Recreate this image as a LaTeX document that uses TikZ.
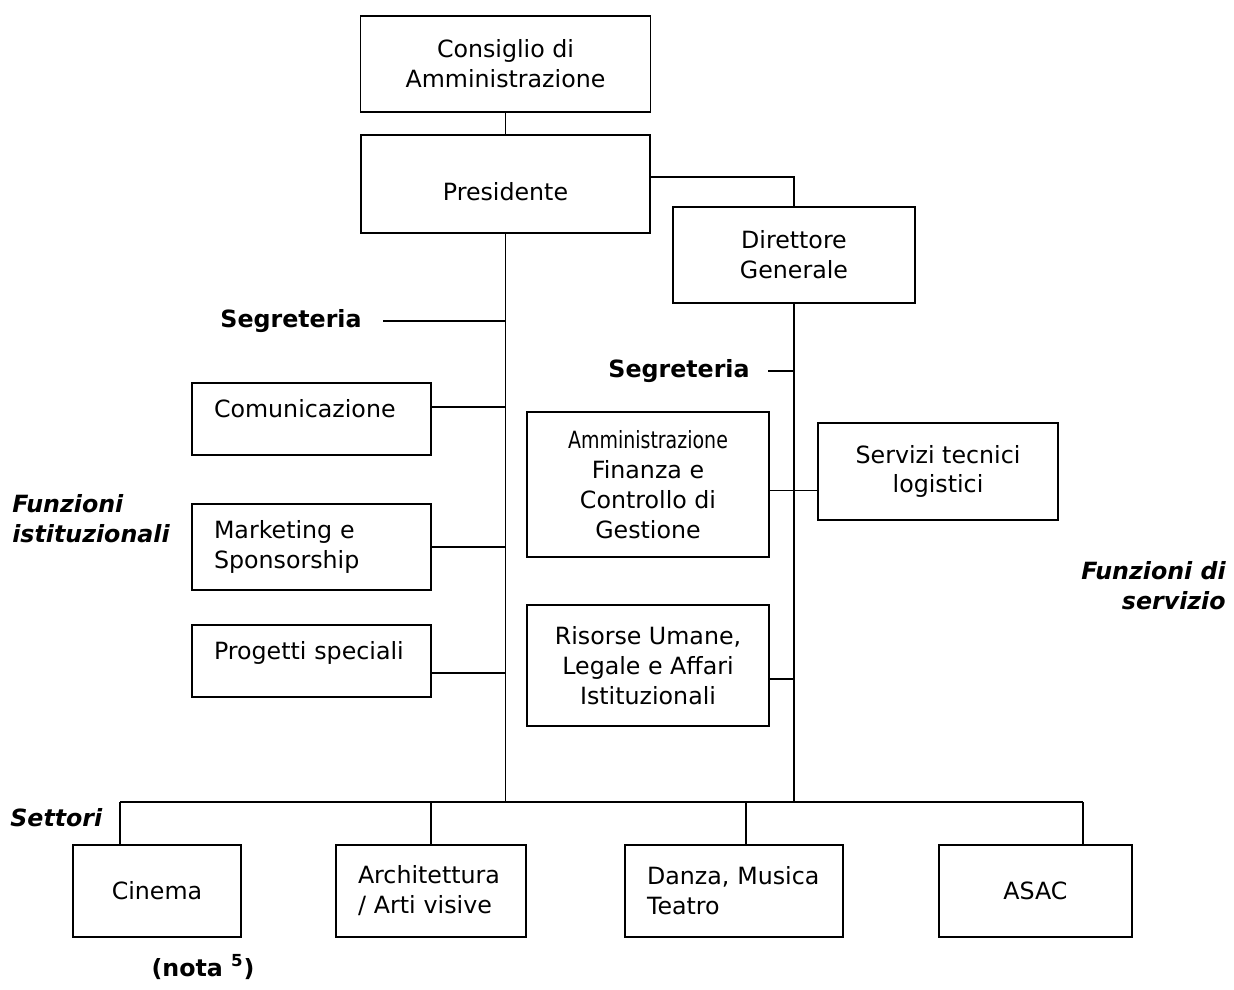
\documentclass[tikz,border=0pt]{standalone}
\usepackage{fontspec}
\setmainfont{DejaVu Sans}[ItalicFont={DejaVu Sans Oblique}, BoldItalicFont={DejaVu Sans Bold Oblique}]
\usepackage{graphicx}
\usepackage{tikz}
\usetikzlibrary{positioning}
\tikzstyle{unit} = [rectangle, draw=black, line width=0.8pt, inner xsep=2pt, inner ysep=0pt, align=center, font=\fontsize{13.5}{17}\selectfont]
\tikzstyle{leftunit} = [unit, align=left, inner xsep=0.44cm]
\tikzstyle{tag} = [inner sep=0pt, font=\fontsize{13.5}{17}\selectfont\bfseries]
\tikzstyle{itag} = [tag, font=\fontsize{13.5}{17}\selectfont\bfseries\itshape]
\tikzstyle{link} = [line width=0.8pt]

\begin{document}
\begin{tikzpicture}[x=0.02cm, y=-0.02cm]
    \useasboundingbox (0,0) rectangle (1234,990);

    % Nodes
    \node (cda) [unit, minimum width=5.8cm, minimum height=1.92cm] at (505.5,64) {Consiglio di\\Amministrazione};
    \node (pres) [unit, minimum width=5.78cm, minimum height=1.96cm, text height=21pt, text depth=2pt] at (505.5,184) {Presidente};
    \node (dg) [unit, minimum width=4.84cm, minimum height=1.92cm] at (794,255) {Direttore\\Generale};

    \node (seg1) [tag, anchor=east] at (362,321) {Segreteria};
    \node (com) [leftunit, text width=3.9cm, minimum height=1.44cm, text height=10pt, text depth=11.6pt] at (311.5,419) {Comunicazione};
    \node (mkt) [leftunit, text width=3.9cm, minimum height=1.72cm] at (311.5,547) {Marketing e\\Sponsorship};
    \node (prog) [leftunit, text width=3.9cm, minimum height=1.44cm, text height=10pt, text depth=11.6pt] at (311.5,661) {Progetti speciali};
    \node (fist) [itag, anchor=west, align=left] at (12,519) {Funzioni\\istituzionali};

    \node (seg2) [tag, anchor=east] at (750,371) {Segreteria};
    \node (amm) [unit, minimum width=4.84cm, minimum height=2.9cm] at (648,484.5) {\scalebox{0.8}[1]{Amministrazione}\\Finanza e\\Controllo di\\Gestione};
    \node (serv) [unit, minimum width=4.8cm, minimum height=1.94cm] at (938,471.5) {Servizi tecnici\\logistici};
    \node (ris) [unit, minimum width=4.84cm, minimum height=2.42cm] at (648,665.5) {Risorse Umane,\\Legale e Affari\\Istituzionali};
    \node (fser) [itag, anchor=east, align=right] at (1226,586) {Funzioni di\\servizio};

    \node (sett) [itag, anchor=west] at (10,818) {Settori};
    \node (cin) [unit, minimum width=3.36cm, minimum height=1.84cm] at (157,891) {Cinema};
    \node (arch) [leftunit, text width=2.92cm, minimum height=1.84cm] at (431,891) {Architettura\\/ Arti visive};
    \node (dan) [leftunit, text width=3.48cm, minimum height=1.84cm] at (734,891) {Danza, Musica\\Teatro};
    \node (asac) [unit, minimum width=3.86cm, minimum height=1.84cm] at (1035.5,891) {ASAC};
    \node (nota) [tag] at (203,967) {(nota \textsuperscript{5})};

    \coordinate (cdrop) at (120,802);
    \coordinate (adrop) at (431,802);
    \coordinate (ddrop) at (746,802);
    \coordinate (sdrop) at (1083,802);

    % Lines
    \draw [link] (cda) -- (pres);
    \draw [link] ([yshift=0.14cm]pres.east) -| (dg.north);
    \draw [link] (pres.south) -- (pres.south |- cdrop);
    \draw [link] (dg.south) -- (dg.south |- cdrop);
    \draw [link] ([xshift=0.42cm]seg1.east) -- (seg1.east -| pres.south);
    \draw [link] ([yshift=0.24cm]com.east) -- ([yshift=0.24cm]com.east -| pres.south);
    \draw [link] (mkt.east) -- (mkt.east -| pres.south);
    \draw [link] ([yshift=-0.24cm]prog.east) -- ([yshift=-0.24cm]prog.east -| pres.south);
    \draw [link] ([xshift=0.36cm]seg2.east) -- (seg2.east -| dg.south);
    \draw [link] ([yshift=-0.12cm]amm.east) -- ([yshift=-0.12cm]amm.east -| serv.west);
    \draw [link] ([yshift=-0.27cm]ris.east) -- ([yshift=-0.27cm]ris.east -| dg.south);
    \draw [link] (cdrop) -- (sdrop);
    \draw [link] (cdrop) -- (cdrop |- cin.north);
    \draw [link] (adrop) -- (adrop |- arch.north);
    \draw [link] (ddrop) -- (ddrop |- dan.north);
    \draw [link] (sdrop) -- (sdrop |- asac.north);

\end{tikzpicture}
\end{document}
